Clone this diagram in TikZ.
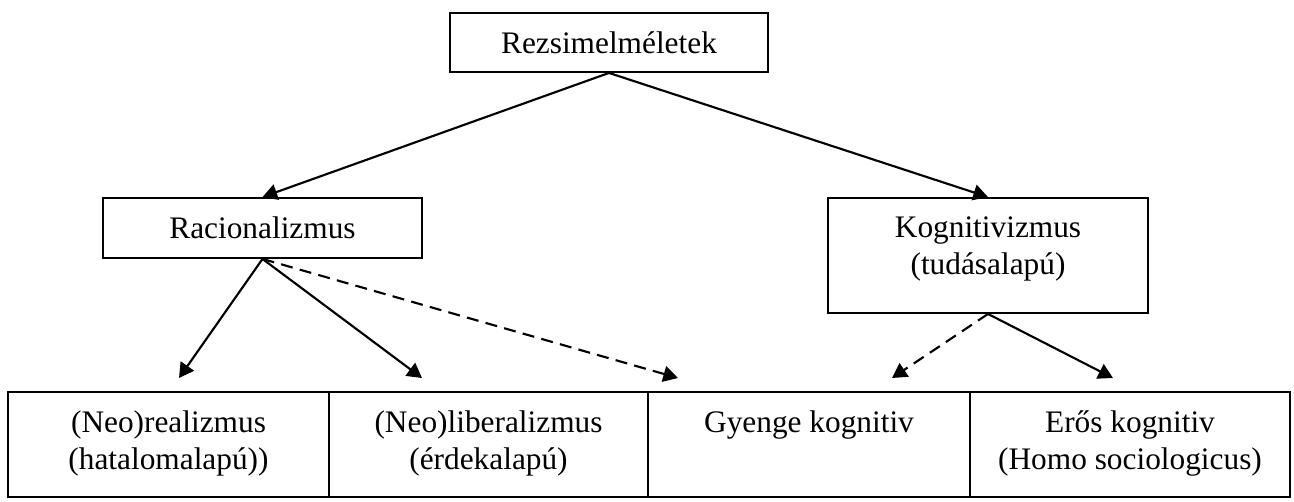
\documentclass[tikz,border=0pt]{standalone}
\usepackage{fontspec}
\setmainfont{Liberation Serif}
\usetikzlibrary{arrows.meta}
\begin{document}
\begin{tikzpicture}[x=0.75pt,y=-0.75pt,
  box/.style={draw=black,line width=1.4pt,rectangle,inner sep=0pt},
  lbl/.style={anchor=base,inner sep=0pt,font=\fontsize{23.5}{28}\selectfont},
  conn/.style={line width=1.6pt,-{Triangle[length=11pt,width=12pt]}},
  dconn/.style={conn,dash pattern=on 9pt off 5.5pt}]
\useasboundingbox (0,0) rectangle (1294,501);
% boxes
\node[box,minimum width=238.5pt,minimum height=44.25pt] (top) at (609,42.5) {};
\node[box,minimum width=239.25pt,minimum height=45pt] (rac) at (262.5,228) {};
\node[box,minimum width=240pt,minimum height=86.25pt] (kog) at (988,255.5) {};
\node[box,minimum width=240.75pt,minimum height=78.75pt] (c1) at (168.5,444.5) {};
\node[box,minimum width=239.25pt,minimum height=78.75pt] (c2) at (488.5,444.5) {};
\node[box,minimum width=241.5pt,minimum height=78.75pt] (c3) at (809,444.5) {};
\node[box,minimum width=240pt,minimum height=78.75pt] (c4) at (1130,444.5) {};
% texts
\node[lbl] (t1) at (609,53) {Rezsimelméletek};
\node[lbl] (r1) at (262.5,238.5) {Racionalizmus};
\node[lbl] (k1) at (988,237) {Kognitivizmus};
\node[lbl] (k2) at (988,274.5) {(tudásalapú)};
\node[lbl] (b1a) at (168.5,432) {(Neo)realizmus};
\node[lbl] (b1b) at (168.5,469) {(hatalomalapú))};
\node[lbl] (b2a) at (488.5,432) {(Neo)liberalizmus};
\node[lbl] (b2b) at (488.5,469) {(érdekalapú)};
\node[lbl] (b3a) at (809,432) {Gyenge kognitiv};
\node[lbl] (b4a) at (1130,432) {Erős kognitiv};
\node[lbl] (b4b) at (1130,469) {(Homo sociologicus)};
% arrow ends
\coordinate (e1) at (179,378);
\coordinate (e2) at (422,378);
\coordinate (e3) at (678,378);
\coordinate (e4) at (892,378);
\coordinate (e5) at (1113,378);
% connectors
\draw[conn] (top.south) -- (rac.north);
\draw[conn] (top.south) -- (kog.north);
\draw[conn] (rac.south) -- (e1);
\draw[conn] (rac.south) -- (e2);
\draw[dconn] (rac.south) -- (e3);
\draw[dconn] (kog.south) -- (e4);
\draw[conn] (kog.south) -- (e5);
\end{tikzpicture}
\end{document}
